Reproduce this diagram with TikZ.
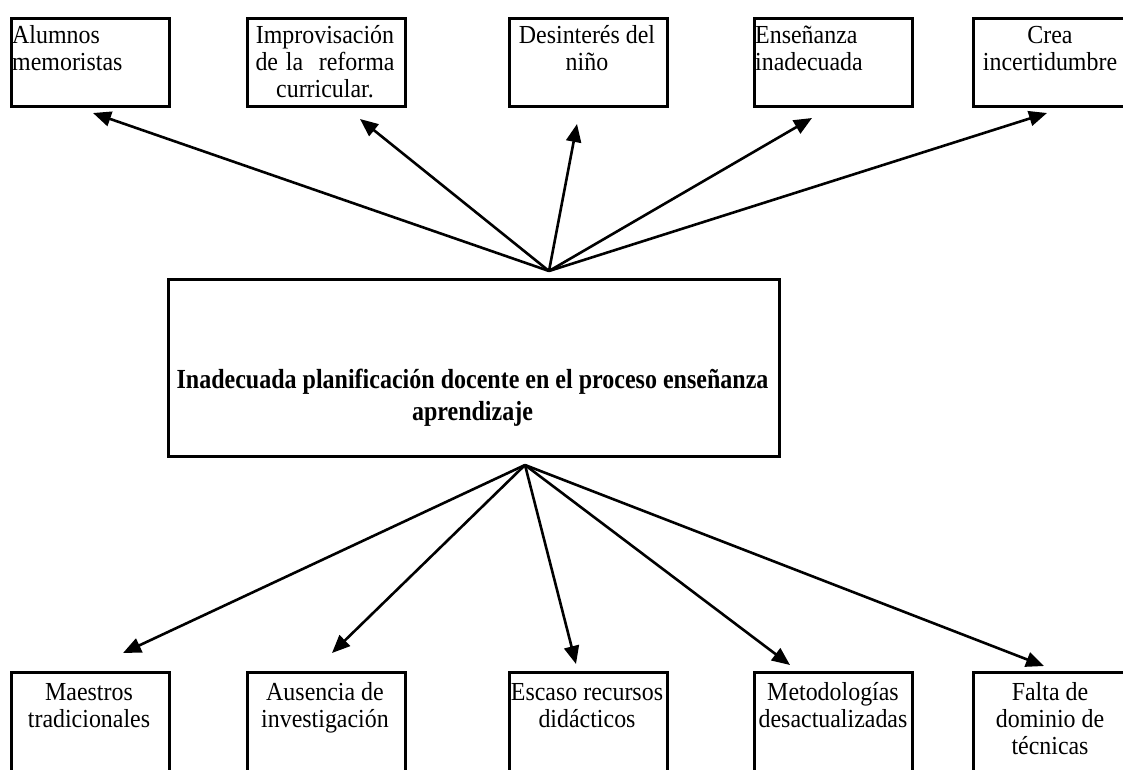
\documentclass[tikz,border=0pt]{standalone}
\usepackage{fontspec}
\setmainfont{Liberation Serif}
\newfontfamily\lblfont[FakeStretch=0.92]{Liberation Serif}
\newfontfamily\ttlfont[FakeStretch=0.87]{Liberation Serif}
\usetikzlibrary{arrows.meta}
\begin{document}
\begin{tikzpicture}[x=1pt,y=-1pt,
  boxline/.style={draw,line width=3.4pt,inner sep=0pt,anchor=north west,minimum width=158pt},
  topbox/.style={boxline,minimum height=88pt},
  botbox/.style={boxline,minimum height=120pt},
  lbl/.style={inner sep=0pt,font=\lblfont\fontsize{26}{27}\selectfont,anchor=north},
  arr/.style={line width=2.6pt,-{Triangle[length=18pt,width=15pt]}}]
\useasboundingbox (0,0) rectangle (1123,769);
\clip (0,0) rectangle (1123,769);
% top boxes
\node[topbox] (t1) at (10,17) {};
\node[topbox] (t2) at (246,17) {};
\node[topbox] (t3) at (508,17) {};
\node[topbox] (t4) at (753,17) {};
\node[topbox] (t5) at (972,17) {};
\node[lbl,align=left,anchor=north west] (t1l) at (12,24) {\strut Alumnos\\memoristas};
\node[lbl,align=center] (t2l) at (325,24) {\strut Improvisación\\\makebox[139pt][s]{de la\ \ reforma}\\curricular.};
\node[lbl,align=center] (t3l) at (587,24) {\strut Desinterés del\\niño};
\node[lbl,align=left,anchor=north west] (t4l) at (755,24) {\strut Enseñanza\\inadecuada};
\node[lbl,align=center] (t5l) at (1050,24) {\strut Crea\\incertidumbre};
% central box
\node[boxline,minimum width=611pt,minimum height=177pt] (c) at (167,278) {};
\node[inner sep=0pt,anchor=base,font=\ttlfont\fontsize{27.6}{32}\selectfont\bfseries] (cl) at (472.5,388)
  {\begin{tabular}[t]{@{}c@{}}Inadecuada planificación docente en el proceso enseñanza\\aprendizaje\end{tabular}};
% bottom boxes
\node[botbox] (b1) at (10,671) {};
\node[botbox] (b2) at (246,671) {};
\node[botbox] (b3) at (508,671) {};
\node[botbox] (b4) at (753,671) {};
\node[botbox] (b5) at (972,671) {};
\node[lbl,align=center] (b1l) at (89,681) {\strut Maestros\\tradicionales};
\node[lbl,align=center] (b2l) at (325,681) {\strut Ausencia de\\investigación};
\node[lbl,align=center] (b3l) at (587,681) {\strut Escaso recursos\\didácticos};
\node[lbl,align=center] (b4l) at (833,681) {\strut Metodologías\\desactualizadas};
\node[lbl,align=center] (b5l) at (1050,681) {\strut Falta de\\dominio de\\técnicas};
% arrows
\coordinate (topapex) at (549,271);
\coordinate (botapex) at (525,465);
\coordinate (t1tip) at (93,113);
\coordinate (t2tip) at (360,119);
\coordinate (t3tip) at (577,124);
\coordinate (t4tip) at (812,118);
\coordinate (t5tip) at (1047,113);
\coordinate (b1tip) at (123,653);
\coordinate (b2tip) at (332,653);
\coordinate (b3tip) at (576,664);
\coordinate (b4tip) at (790,665);
\coordinate (b5tip) at (1044,666);
\foreach \i in {1,...,5}{
  \draw[arr] (topapex) -- (t\i tip);
  \draw[arr] (botapex) -- (b\i tip);
}
\end{tikzpicture}
\end{document}
